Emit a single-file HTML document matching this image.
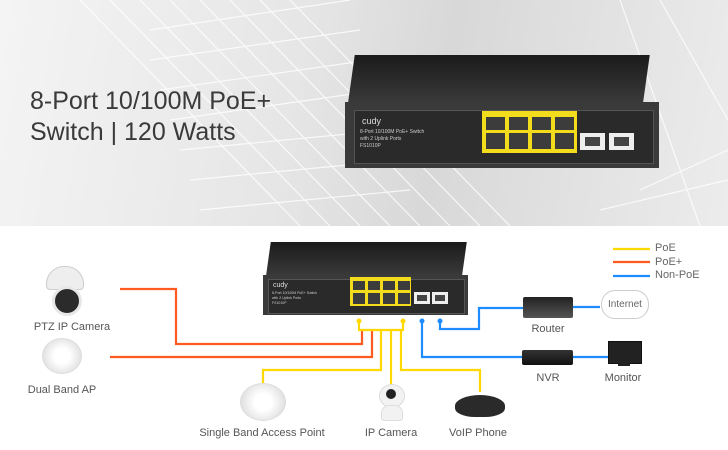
<!DOCTYPE html>
<html><head><style>
body{margin:0;width:728px;height:450px;overflow:hidden;background:#fff;font-family:"Liberation Sans",sans-serif;position:relative}
.a{position:absolute}
.lbl{position:absolute;font-size:11px;color:#555;transform:translateX(-50%);white-space:nowrap}
</style></head><body>
<div class="a" style="left:0;top:0;width:728px;height:226px;background:linear-gradient(100deg,#f4f4f4 0%,#e6e6e6 40%,#d8d8d8 60%,#ececec 100%)"></div>
<svg class="a" style="left:0;top:0" width="728" height="226">
<g stroke="#fff" stroke-width="1.2" opacity="0.8">
<path d="M80 0 L300 226 M110 0 L330 226 M140 0 L360 226 M170 0 L390 226 M200 0 L420 226 M230 0 L450 226 M260 0 L480 226 M290 0 L510 226"/>
<path d="M150 30 L350 0 M150 60 L360 30 M160 90 L370 60 M170 120 L380 90 M180 150 L390 130 M190 180 L400 160 M200 210 L410 190 M640 190 L728 150 M600 210 L728 180"/>
<path d="M660 0 L728 120 M620 0 L700 226"/>
</g>
</svg>
<div class="a" style="left:30px;top:86px;font-size:25px;color:#3a3a3a;line-height:31px">8-Port 10/100M PoE+<br>Switch | 120 Watts</div>
<!-- top switch -->
<div class="a" style="left:348px;top:55px;width:295px;height:48px;background:linear-gradient(180deg,#1b1b1b,#3a3a3a);transform:skewX(-8deg);transform-origin:bottom"></div>
<div class="a" style="left:345px;top:102px;width:314px;height:66px;background:#3a3a3a"></div>
<div class="a" style="left:354px;top:110px;width:298px;height:52px;background:#2a2a2a;border:1px solid #555"></div>
<div class="a" style="left:362px;top:116px;font-size:9px;color:#ddd">cudy</div>
<div class="a" style="left:360px;top:129px;font-size:5px;color:#ccc;line-height:7px">8-Port 10/100M PoE+ Switch<br>with 2 Uplink Ports<br>FS1010P</div>
<div class="a" style="left:482px;top:111px;width:95px;height:42px;background:#f3dc1c"></div>
<svg class="a" style="left:482px;top:111px" width="160" height="42">
<g fill="#3c3c3c"><rect x="4" y="6" width="19" height="13"/><rect x="27" y="6" width="19" height="13"/><rect x="50" y="6" width="19" height="13"/><rect x="73" y="6" width="19" height="13"/>
<rect x="4" y="22" width="19" height="16"/><rect x="27" y="22" width="19" height="16"/><rect x="50" y="22" width="19" height="16"/><rect x="73" y="22" width="19" height="16"/></g>
<rect x="98" y="22" width="25" height="17" fill="#eee"/><rect x="127" y="22" width="25" height="17" fill="#eee"/>
<rect x="103" y="26" width="15" height="9" fill="#444"/><rect x="132" y="26" width="15" height="9" fill="#444"/>
</svg>
<!-- bottom switch -->
<div class="a" style="left:266px;top:242px;width:196px;height:34px;background:linear-gradient(180deg,#1b1b1b,#3a3a3a);transform:skewX(-8deg);transform-origin:bottom"></div>
<div class="a" style="left:263px;top:275px;width:205px;height:40px;background:#3a3a3a"></div>
<div class="a" style="left:268px;top:279px;width:195px;height:33px;background:#2a2a2a;border:1px solid #555"></div>
<div class="a" style="left:273px;top:282px;font-size:7px;color:#ddd">cudy</div>
<div class="a" style="left:272px;top:291px;font-size:3.5px;color:#ccc;line-height:5px">8-Port 10/100M PoE+ Switch<br>with 2 Uplink Ports<br>FS1010P</div>
<div class="a" style="left:350px;top:277px;width:61px;height:29px;background:#f3dc1c"></div>
<svg class="a" style="left:350px;top:277px" width="110" height="30">
<g fill="#3c3c3c"><rect x="3" y="4" width="12" height="9"/><rect x="18" y="4" width="12" height="9"/><rect x="33" y="4" width="12" height="9"/><rect x="48" y="4" width="12" height="9"/>
<rect x="3" y="16" width="12" height="11"/><rect x="18" y="16" width="12" height="11"/><rect x="33" y="16" width="12" height="11"/><rect x="48" y="16" width="12" height="11"/></g>
<rect x="64" y="15" width="16" height="12" fill="#eee"/><rect x="82" y="15" width="16" height="12" fill="#eee"/>
<rect x="67" y="18" width="10" height="6" fill="#444"/><rect x="85" y="18" width="10" height="6" fill="#444"/>
</svg>
<!-- connectors -->
<svg class="a" style="left:0;top:0" width="728" height="450" fill="none" stroke-width="2.2">
<g stroke="#ff5a1f"><path d="M120 289 H176 V344 H362 V330"/><path d="M110 357 H372 V330"/></g>
<g stroke="#ffd800"><path d="M359 321 V330 H403 V321"/><path d="M381 330 V370 H263 V384"/><path d="M391 330 V385"/><path d="M401 330 V370 H480 V392"/>
<path d="M613 249 H650"/></g>
<circle cx="359" cy="321" r="2.5" fill="#ffd800" stroke="none"/><circle cx="403" cy="321" r="2.5" fill="#ffd800" stroke="none"/>
<path d="M613 262 H650" stroke="#ff5a1f"/>
<g stroke="#1e8cff"><path d="M613 276 H650"/><path d="M422 321 V357 H525"/><path d="M440 321 V329 H479 V308 H525"/><path d="M573 307 H600"/><path d="M573 357 H610"/></g>
<circle cx="422" cy="321" r="2.5" fill="#1e8cff" stroke="none"/><circle cx="440" cy="321" r="2.5" fill="#1e8cff" stroke="none"/>
</svg>
<div class="a" style="left:655px;top:242px;font-size:11px;color:#666;line-height:13.5px">PoE<br>PoE+<br>Non-PoE</div>
<!-- router -->
<div class="a" style="left:523px;top:297px;width:50px;height:21px;background:linear-gradient(#222,#555);border-radius:2px"></div>
<div class="lbl" style="left:548px;top:323px">Router</div>
<div class="a" style="left:601px;top:290px;width:46px;height:27px;border:1px solid #ccc;border-radius:14px;background:#fff;font-size:10px;color:#666;text-align:center;line-height:27px">Internet</div>
<div class="a" style="left:522px;top:350px;width:51px;height:15px;background:linear-gradient(#333,#111);border-radius:2px"></div>
<div class="lbl" style="left:548px;top:372px">NVR</div>
<div class="a" style="left:608px;top:341px;width:32px;height:21px;background:#222;border:1px solid #111"></div>
<div class="a" style="left:618px;top:362px;width:12px;height:4px;background:#222"></div>
<div class="lbl" style="left:623px;top:372px">Monitor</div>
<!-- left devices -->
<div class="a" style="left:46px;top:266px;width:36px;height:22px;background:#eee;border-radius:18px 18px 4px 4px;border:1px solid #ccc"></div>
<div class="a" style="left:52px;top:286px;width:24px;height:24px;background:#2b2b2b;border-radius:50%;border:3px solid #e8e8e8"></div>
<div class="lbl" style="left:72px;top:321px">PTZ IP Camera</div>
<div class="a" style="left:42px;top:338px;width:38px;height:34px;background:radial-gradient(circle,#fff 30%,#e2e2e2 75%);border-radius:50%;border:1px solid #ddd"></div>
<div class="lbl" style="left:62px;top:384px">Dual Band AP</div>
<div class="a" style="left:240px;top:383px;width:44px;height:36px;background:radial-gradient(circle,#fff 30%,#e2e2e2 75%);border-radius:50%;border:1px solid #ddd"></div>
<div class="lbl" style="left:262px;top:427px">Single Band Access Point</div>
<div class="a" style="left:379px;top:384px;width:24px;height:22px;background:#f2f2f2;border-radius:50%;border:1px solid #ddd"></div>
<div class="a" style="left:386px;top:389px;width:10px;height:10px;background:#222;border-radius:50%"></div>
<div class="a" style="left:381px;top:405px;width:20px;height:14px;background:#f2f2f2;border-radius:8px 8px 3px 3px;border:1px solid #ddd"></div>
<div class="lbl" style="left:391px;top:427px">IP Camera</div>
<div class="a" style="left:455px;top:395px;width:50px;height:22px;background:#2a2a2a;border-radius:50% 50% 40% 40%"></div>
<div class="lbl" style="left:478px;top:427px">VoIP Phone</div>
</body></html>
